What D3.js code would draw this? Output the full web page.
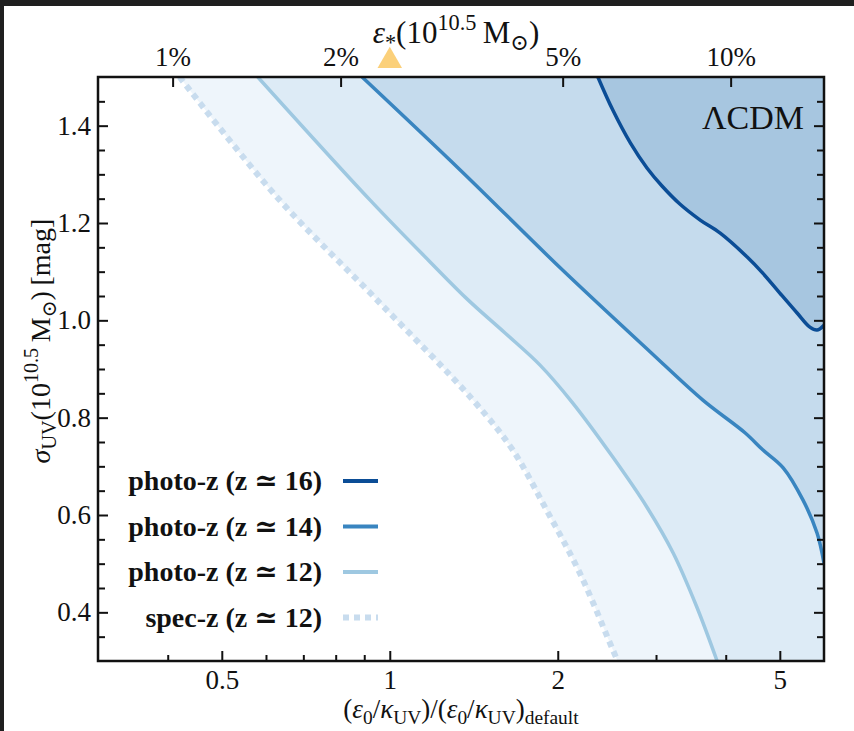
<!DOCTYPE html>
<html>
<head>
<meta charset="utf-8">
<script src="https://cdn.jsdelivr.net/npm/d3@7"></script>
<style>
  body { margin: 0; background: #fff; }
  svg text { font-family: 'Liberation Serif', 'DejaVu Serif', serif; fill: #111; }
</style>
</head>
<body>
<svg></svg>
<script>
var width = 854,
    height = 731;

// plot frame
var x0 = 98, x1 = 824, y0 = 77, y1 = 661;

// axis domains and ticks
var xDomain = [0.3, 6];
var yDomain = [0.3, 1.5];
var xMajor = [0.5, 1, 2, 5];
var xMinor = [0.4, 0.6, 0.7, 0.8, 0.9, 3, 4];
var yMajor = [0.4, 0.6, 0.8, 1.0, 1.2, 1.4];
var yMinor = [0.35, 0.45, 0.5, 0.55, 0.65, 0.7, 0.75, 0.85, 0.9, 0.95, 1.05, 1.1, 1.15, 1.25, 1.3, 1.35, 1.45];
var topTicks = [1, 2, 5, 10];   // epsilon_* in %
var epsDefault = 2.45;          // epsilon_* (%) at x = 1

// contour curves [x, sigma]
var z16 = [[2.36, 1.5], [2.51, 1.432], [2.70, 1.364], [2.89, 1.313], [3.075, 1.276], [3.31, 1.239],
    [3.60, 1.206], [3.91, 1.179], [4.37, 1.130], [4.66, 1.097], [5.00, 1.056], [5.37, 1.015],
    [5.66, 0.986], [5.83, 0.980], [6.0, 0.99]];
var z14 = [[0.892, 1.5], [1.337, 1.309], [2.02, 1.108], [2.93, 0.935], [3.64, 0.836], [4.33, 0.769],
    [4.66, 0.734], [5.07, 0.697], [5.50, 0.631], [5.83, 0.563], [6.0, 0.501]];
var z12 = [[0.580, 1.5], [0.922, 1.247], [1.181, 1.120], [1.381, 1.042], [1.609, 0.974], [1.859, 0.908],
    [2.121, 0.832], [2.51, 0.719], [2.89, 0.616], [3.22, 0.522], [3.55, 0.411], [3.86, 0.3]];
var specz = [[0.42, 1.5], [0.628, 1.253], [0.941, 1.046], [1.41, 0.836], [1.66, 0.734], [1.91, 0.610],
    [2.19, 0.481], [2.51, 0.323], [2.56, 0.3]];

var legendLabels = ['photo-z (z \u2243 16)', 'photo-z (z \u2243 14)',
    'photo-z (z \u2243 12)', 'spec-z (z \u2243 12)'];

var x = d3.scaleLog().domain(xDomain).range([x0, x1]);
var xTop = d3.scaleLog().domain(xDomain.map(function(d) { return d * epsDefault; })).range([x0, x1]);
var y = d3.scaleLinear().domain(yDomain).range([y1, y0]);

var svg = d3.select('svg')
    .attr('width', width)
    .attr('height', height);

// dark window edge
svg.append('rect').attr('width', width).attr('height', 6).attr('fill', '#1f1f1f');
svg.append('rect').attr('width', 4).attr('height', height).attr('fill', '#1f1f1f');

svg.append('clipPath').attr('id', 'clip')
  .append('rect').attr('x', x0).attr('y', y0).attr('width', x1 - x0).attr('height', y1 - y0);

var plot = svg.append('g').attr('clip-path', 'url(#clip)');

var line = d3.line()
    .x(function(d) { return x(d[0]); })
    .y(function(d) { return y(d[1]); })
    .curve(d3.curveCatmullRom.alpha(0.5));

// region right of each curve, closed along the right edge
function region(pts) {
    var last = pts[pts.length - 1];
    var corners = [];
    if (last[1] <= yDomain[0]) corners.push([xDomain[1], yDomain[0]]);
    corners.push([xDomain[1], yDomain[1]]);
    return line(pts) + corners.map(function(d) {
        return 'L' + x(d[0]) + ',' + y(d[1]);
    }).join('') + 'Z';
}

var series = [
    {pts: specz, fill: '#eef5fb', stroke: '#c8dcee', dash: '6,5', w: 6},
    {pts: z12, fill: '#ddebf6', stroke: '#9ec8e1', dash: null, w: 3.5},
    {pts: z14, fill: '#c5dbed', stroke: '#3985c0', dash: null, w: 3.5},
    {pts: z16, fill: '#a7c6e0', stroke: '#0b4d96', dash: null, w: 3.5}
];

series.forEach(function(s) {
    plot.append('path').attr('d', region(s.pts)).attr('fill', s.fill);
});
series.forEach(function(s) {
    plot.append('path').attr('d', line(s.pts))
        .attr('fill', 'none')
        .attr('stroke', s.stroke)
        .attr('stroke-width', s.w)
        .attr('stroke-dasharray', s.dash);
});

// axes, ticks pointing inward
function styleAxis(g, size) {
    g.select('.domain').remove();
    g.selectAll('line').attr('stroke', '#111').attr('stroke-width', 2);
    g.selectAll('text').attr('font-size', size).attr('font-family', null).attr('fill', '#111');
}

svg.append('g').attr('transform', 'translate(0,' + y1 + ')')
    .call(d3.axisBottom(x).tickValues(xMajor).tickSize(-10).tickPadding(9).tickFormat(function(d) { return d; }))
    .call(styleAxis, 27);
svg.append('g').attr('transform', 'translate(0,' + y1 + ')')
    .call(d3.axisBottom(x).tickValues(xMinor).tickSize(-6).tickFormat(''))
    .call(styleAxis, 27);

svg.append('g').attr('transform', 'translate(0,' + y0 + ')')
    .call(d3.axisTop(xTop).tickValues(topTicks).tickSize(-10).tickPadding(11).tickFormat(function(d) { return d + '%'; }))
    .call(styleAxis, 27);

svg.append('g').attr('transform', 'translate(' + x0 + ',0)')
    .call(d3.axisLeft(y).tickValues(yMajor).tickSize(-10).tickPadding(7).tickFormat(d3.format('.1f')))
    .call(styleAxis, 27);
svg.append('g').attr('transform', 'translate(' + x0 + ',0)')
    .call(d3.axisLeft(y).tickValues(yMinor).tickSize(-7).tickFormat(''))
    .call(styleAxis, 27);
svg.append('g').attr('transform', 'translate(' + x1 + ',0)')
    .call(d3.axisRight(y).tickValues(yMajor).tickSize(-10).tickFormat(''))
    .call(styleAxis, 27);
svg.append('g').attr('transform', 'translate(' + x1 + ',0)')
    .call(d3.axisRight(y).tickValues(yMinor).tickSize(-7).tickFormat(''))
    .call(styleAxis, 27);

// frame
svg.append('rect')
    .attr('x', x0).attr('y', y0).attr('width', x1 - x0).attr('height', y1 - y0)
    .attr('fill', 'none').attr('stroke', '#111').attr('stroke-width', 2.5);

// default-model marker on top axis
svg.append('path')
    .attr('d', d3.symbol(d3.symbolTriangle, 260)())
    .attr('transform', 'translate(' + x(1) + ',61)')
    .attr('fill', '#fbd07a');

// rich labels built from [text, style] pieces
function richText(sel, parts, size) {
    parts.forEach(function(p) {
        var t = sel.append('tspan').text(p[0]);
        var kind = p[1] || '';
        if (kind.indexOf('i') >= 0) t.attr('font-style', 'italic');
        if (kind.indexOf('sub') >= 0) t.attr('font-size', size * 0.72).attr('dy', size * 0.22);
        if (kind.indexOf('sup') >= 0) t.attr('font-size', size * 0.72).attr('dy', -size * 0.42);
        if (kind.indexOf('rs') >= 0) t.attr('dy', -size * 0.22);   // back from sub
        if (kind.indexOf('rp') >= 0) t.attr('dy', size * 0.42);    // back from sup
    });
}

var topLabel = svg.append('text')
    .attr('x', 456).attr('y', 43)
    .attr('text-anchor', 'middle')
    .attr('font-size', 31);
richText(topLabel, [['\u03b5', 'i'], ['*', 'sub'], ['(10', 'rs'], ['10.5', 'sup'], ['\u2009M', 'rp'], ['\u2299', 'sub'], [')', 'rs']], 31);

var xLabel = svg.append('text')
    .attr('x', 461).attr('y', 718)
    .attr('text-anchor', 'middle')
    .attr('font-size', 27);
richText(xLabel, [['('], ['\u03b5', 'i'], ['0', 'sub'], ['/', 'rs'], ['\u03ba', 'i'], ['UV', 'sub'], [')/(', 'rs'],
    ['\u03b5', 'i'], ['0', 'sub'], ['/', 'rs'], ['\u03ba', 'i'], ['UV', 'sub'], [')', 'rs'], ['default', 'sub']], 27);

var yLabel = svg.append('text')
    .attr('transform', 'translate(50,341) rotate(-90)')
    .attr('text-anchor', 'middle')
    .attr('font-size', 28);
richText(yLabel, [['\u03c3', 'i'], ['UV', 'sub'], ['(10', 'rs'], ['10.5', 'sup'], ['\u2009M', 'rp'], ['\u2299', 'sub'], [')\u2009[mag]', 'rs']], 28);

svg.append('text')
    .attr('x', 804).attr('y', 129)
    .attr('text-anchor', 'end')
    .attr('font-size', 34)
    .text('\u039bCDM');

// legend
var legend = svg.append('g');
legendLabels.forEach(function(label, i) {
    var cy = 481 + i * 45.5;
    legend.append('text')
        .attr('x', 322).attr('y', cy + 9)
        .attr('text-anchor', 'end')
        .attr('font-size', 28)
        .attr('font-weight', 'bold')
        .text(label);
    var s = series[3 - i];
    legend.append('line')
        .attr('x1', 343).attr('x2', 378).attr('y1', cy).attr('y2', cy)
        .attr('stroke', s.stroke)
        .attr('stroke-width', i === 3 ? 6 : 4)
        .attr('stroke-dasharray', s.dash);
});
</script>
</body>
</html>
